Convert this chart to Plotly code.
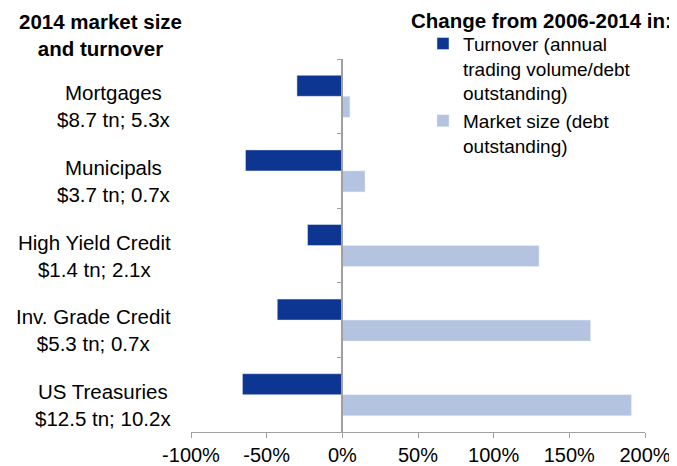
import plotly.graph_objects as go

## données (variation 2006-2014)
categories = ['Mortgages', 'Municipals', 'High Yield Credit',
              'Inv. Grade Credit', 'US Treasuries']
cat_labels = ['Mortgages<br>$8.7 tn; 5.3x', 'Municipals<br>$3.7 tn; 0.7x',
              'High Yield Credit<br>$1.4 tn; 2.1x',
              'Inv. Grade Credit<br>$5.3 tn; 0.7x',
              'US Treasuries<br>$12.5 tn; 10.2x']
turnover = [-0.30, -0.64, -0.23, -0.43, -0.66]
market_size = [0.05, 0.15, 1.30, 1.64, 1.91]

tick_vals = [-1.0, -0.5, 0.0, 0.5, 1.0, 1.5, 2.0]
tick_text = ['-100%', '-50%', '0%', '50%', '100%', '150%', '200%']

dark_blue = '#0c3692'
light_blue = '#b4c3df'
axis_grey = '#a0a0a0'
font_family = 'Liberation Sans, Arial, sans-serif'

## la page ajoute une marge de 8 px : on réduit la figure d'autant
body_offset = 8

fig = go.Figure()
fig.add_bar(y=categories, x=turnover, orientation='h',
            name='Turnover (annual<br>trading volume/debt<br>outstanding)',
            marker_color=dark_blue)
fig.add_bar(y=categories, x=market_size, orientation='h',
            name='Market size (debt<br>outstanding)',
            marker_color=light_blue)

## libellés des catégories, alignés à droite en bloc, centrés ligne à ligne
annotations = []
for cat, lab in zip(categories, cat_labels):
    annotations.append(dict(x=0, xref='paper', y=cat, yref='y',
                            text=lab, showarrow=False, xanchor='right',
                            xshift=-18, yshift=-10, align='center',
                            font=dict(size=20.5, color='black')))

## titres
annotations.append(dict(x=0, xref='paper', y=1, yref='paper',
                        text='<b>2014 market size<br>and turnover</b>',
                        showarrow=False, xanchor='center', yanchor='top',
                        xshift=-91, yshift=51, align='center',
                        font=dict(size=20.5, color='black')))
annotations.append(dict(x=1, xref='paper', y=1, yref='paper',
                        text='<b>Change from 2006-2014 in:</b>',
                        showarrow=False, xanchor='right', yanchor='top',
                        xshift=29, yshift=52,
                        font=dict(size=20.5, color='black')))

fig.update_layout(
    width=677 - body_offset, height=466 - body_offset,
    margin=dict(l=191 - body_offset, r=32, t=59 - body_offset, b=34,
                autoexpand=False),
    plot_bgcolor='white', paper_bgcolor='white',
    font=dict(family=font_family, color='black'),
    barmode='group', bargap=0.437, bargroupgap=0,
    showlegend=True,
    legend=dict(x=0.511, xanchor='left', y=1.092, yanchor='top',
                font=dict(size=19), valign='top', tracegroupgap=0,
                bgcolor='rgba(0,0,0,0)', traceorder='normal'),
    annotations=annotations,
)
fig.update_xaxes(range=[-1, 2], tickvals=tick_vals, ticktext=tick_text,
                 showline=True, linecolor=axis_grey, linewidth=1,
                 ticks='outside', ticklen=5, tickcolor=axis_grey,
                 showgrid=False, zeroline=False, automargin=False,
                 tickfont=dict(size=20))
fig.update_yaxes(anchor='free', position=1/3, autorange='reversed',
                 showline=True, linecolor=axis_grey, linewidth=1.5,
                 ticks='outside', tickson='boundaries', ticklen=5,
                 tickcolor=axis_grey, showticklabels=False,
                 showgrid=False, zeroline=False, automargin=False)

fig.write_html('out.html')
